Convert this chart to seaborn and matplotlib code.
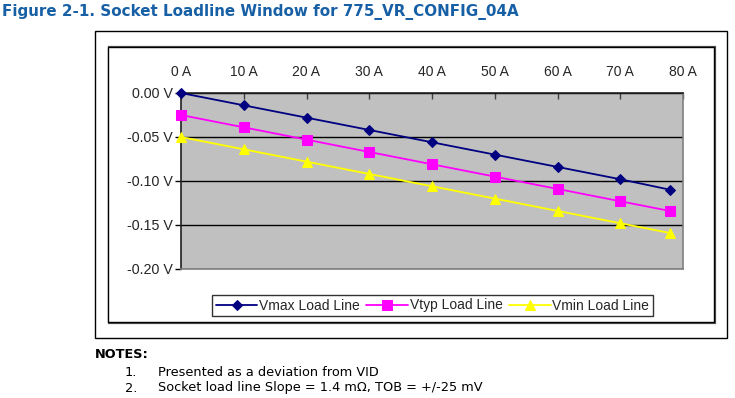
import matplotlib
matplotlib.use("Agg")
import matplotlib.pyplot as plt
from matplotlib.patches import Rectangle
import seaborn as sns
import pandas as pd

# ---- data ----
current_a = [0, 10, 20, 30, 40, 50, 60, 70, 78]
vmax = [0.000, -0.014, -0.028, -0.042, -0.056, -0.070, -0.084, -0.098, -0.110]
vtyp = [-0.025, -0.039, -0.053, -0.067, -0.081, -0.095, -0.109, -0.123, -0.1342]
vmin = [-0.050, -0.064, -0.078, -0.092, -0.106, -0.120, -0.134, -0.148, -0.1592]
series_names = ["Vmax Load Line", "Vtyp Load Line", "Vmin Load Line"]
x_ticks = [0, 10, 20, 30, 40, 50, 60, 70, 80]
x_tick_labels = ["0 A", "10 A", "20 A", "30 A", "40 A", "50 A", "60 A", "70 A", "80 A"]
y_ticks = [0.00, -0.05, -0.10, -0.15, -0.20]
y_tick_labels = ["0.00 V", "-0.05 V", "-0.10 V", "-0.15 V", "-0.20 V"]
title = "Figure 2-1. Socket Loadline Window for 775_VR_CONFIG_04A"
notes_head = "NOTES:"
notes = ["Presented as a deviation from VID",
         "Socket load line Slope = 1.4 m\u03a9, TOB = +/-25 mV"]

df = pd.concat([
    pd.DataFrame({"I": current_a, "V": vals, "Series": name})
    for name, vals in zip(series_names, [vmax, vtyp, vmin])
], ignore_index=True)

sns.set_style("white")
plt.rcParams["font.family"] = ["Liberation Sans", "DejaVu Sans"]

W, H = 735, 398
fig = plt.figure(figsize=(W / 100, H / 100), dpi=100)

def fx(px):
    return px / W

def fy(py):
    return 1 - py / H

# outer and inner boxes (behind axes)
fig.patches.append(Rectangle((fx(95), fy(338)), fx(727) - fx(95), fy(31) - fy(338),
                             transform=fig.transFigure, fill=False, edgecolor="black",
                             lw=1.0, zorder=-3))
fig.patches.append(Rectangle((fx(109), fy(323)), fx(715) - fx(109), fy(47) - fy(323),
                             transform=fig.transFigure, fill=False, edgecolor="#555555",
                             lw=1.6, zorder=-2))
fig.patches.append(Rectangle((fx(108), fy(322)), fx(714) - fx(108), fy(47) - fy(322),
                             transform=fig.transFigure, fill=True, facecolor="white",
                             edgecolor="black", lw=1.0, zorder=-1))

ax = fig.add_axes([fx(181), fy(269), fx(683) - fx(181), fy(93) - fy(269)])
ax.set_zorder(1)
ax.set_facecolor("#C0C0C0")

palette = {"Vmax Load Line": "#000080", "Vtyp Load Line": "#FF00FF", "Vmin Load Line": "#FFFF00"}
markers = {"Vmax Load Line": "D", "Vtyp Load Line": "s", "Vmin Load Line": "^"}
msize = {"Vmax Load Line": 5.5, "Vtyp Load Line": 7, "Vmin Load Line": 7.5}

for name in series_names:
    sub = df[df["Series"] == name]
    sns.lineplot(data=sub, x="I", y="V", ax=ax, color=palette[name], marker=markers[name],
                 markersize=msize[name], markeredgecolor=palette[name], linewidth=1.3,
                 label=name, clip_on=False, zorder=3)

ax.set_xlim(0, 80)
ax.set_ylim(-0.20, 0.0)
ax.set_xticks(x_ticks)
ax.set_xticklabels(x_tick_labels)
ax.set_yticks(y_ticks)
ax.set_yticklabels(y_tick_labels)
ax.set_xlabel("")
ax.set_ylabel("")
ax.xaxis.tick_top()
ax.tick_params(axis="x", direction="in", length=4, width=1, color="#404040",
               labelsize=10, pad=10)
ax.tick_params(axis="y", direction="out", length=4, width=1, color="black",
               labelsize=10.3, pad=2, left=True)
ax.set_axisbelow(True)
ax.yaxis.grid(True, color="black", linewidth=1.0)
ax.xaxis.grid(False)
for s in ["top", "left"]:
    ax.spines[s].set_color("#202020")
    ax.spines[s].set_linewidth(1.2)
for s in ["right", "bottom"]:
    ax.spines[s].set_color("#808080")
    ax.spines[s].set_linewidth(1.2)
for s in ax.spines.values():
    s.set_visible(True)
    s.set_zorder(2.6)

handles, labels = ax.get_legend_handles_labels()
ax.get_legend().remove()
leg = fig.legend(handles, labels, loc="center", bbox_to_anchor=(fx(432.5), fy(305.5)),
                 ncol=3, frameon=True, fancybox=False, edgecolor="black",
                 fontsize=10, handlelength=3.0, handletextpad=0.1, columnspacing=0.5,
                 borderpad=0.25, borderaxespad=0)
leg.get_frame().set_linewidth(1.0)

# title and notes
fig.text(fx(2), fy(12), title, fontsize=10.9, fontweight="bold", color="#1860A5",
         family=["DejaVu Sans"], va="center", ha="left")
fig.text(fx(95), fy(355), notes_head, fontsize=9.3, fontweight="bold", color="black",
         family=["DejaVu Sans"], va="center", ha="left")
for i, note in enumerate(notes):
    yy = fy(372 + i * 16)
    fig.text(fx(125), yy, f"{i + 1}.", fontsize=9.3, color="black",
             family=["DejaVu Sans"], va="center", ha="left")
    fig.text(fx(158), yy, note, fontsize=9.3, color="black",
             family=["DejaVu Sans"], va="center", ha="left")

fig.savefig("out.png", dpi=100)
